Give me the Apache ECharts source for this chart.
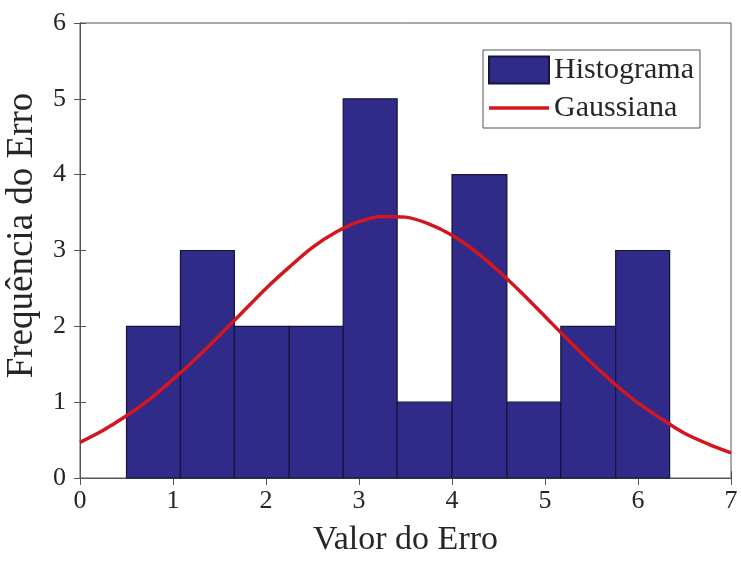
<!DOCTYPE html>
<html>
<head>
<meta charset="utf-8">
<script src="https://cdn.jsdelivr.net/npm/echarts@6/dist/echarts.min.js"></script>
<style>
  html, body { margin: 0; padding: 0; background: #fff; }
  #chart { width: 742px; height: 562px; }
</style>
</head>
<body>
<div id="chart"></div>
<script>
// histogram bins (edges) and counts
const binEdges = [0.50, 1.08, 1.66, 2.25, 2.83, 3.41, 4.00, 4.59, 5.17, 5.76, 6.34];
const counts = [2, 3, 2, 2, 5, 1, 4, 1, 2, 3];

// gaussian curve
const gaussX = [0, 0.25, 0.5, 0.75, 1, 1.25, 1.5, 1.75, 2, 2.25, 2.5, 2.75, 3, 3.25, 3.5,
  3.75, 4, 4.25, 4.5, 4.75, 5, 5.25, 5.5, 5.75, 6, 6.25, 6.5, 6.75, 7];
const gaussY = [0.47, 0.63, 0.82, 1.04, 1.30, 1.58, 1.88, 2.19, 2.50, 2.78, 3.04, 3.24, 3.38, 3.45, 3.44,
  3.35, 3.20, 2.99, 2.73, 2.44, 2.13, 1.82, 1.52, 1.24, 0.99, 0.78, 0.59, 0.45, 0.33];

const xTicks = [0, 1, 2, 3, 4, 5, 6, 7];
const yTicks = [0, 1, 2, 3, 4, 5, 6];

const font = "'Liberation Serif', 'DejaVu Serif', serif";
const textColor = '#262626';
const axisColor = '#555';

const histData = counts.map((c, i) => [binEdges[i], binEdges[i + 1], c]);
const lineData = gaussX.map((x, i) => [x, gaussY[i]]);

const chart = echarts.init(document.getElementById('chart'));

const tickLabel = { fontFamily: font, fontSize: 26, color: textColor };

chart.setOption({
  animation: false,
  grid: {
    left: 80, right: 11, top: 23, bottom: 84,
    outerBoundsMode: 'none',
    containLabel: false,
    show: true, borderColor: axisColor, borderWidth: 1
  },
  legend: {
    orient: 'vertical',
    left: 483, top: 50,
    padding: [5, 6, 5, 5],
    itemGap: 8,
    itemWidth: 60, itemHeight: 27,
    itemTextGap: 5,
    borderColor: axisColor, borderWidth: 1,
    backgroundColor: '#fff',
    textStyle: { fontFamily: font, fontSize: 30, color: textColor },
    data: [
      { name: 'Histograma', icon: 'rect' },
      // thin bar centred in a 60x27 box (corner dots keep the box size)
      { name: 'Gaussiana', icon: 'path://M0,0L0.01,0M0,11.7L60,11.7L60,15.3L0,15.3ZM59.99,27L60,27' }
    ]
  },
  xAxis: [{
    type: 'value',
    min: 0, max: 7, interval: 1,
    name: 'Valor do Erro',
    nameLocation: 'middle',
    nameGap: 45,
    nameTextStyle: { fontFamily: font, fontSize: 34, color: textColor },
    axisLine: { show: true, lineStyle: { color: axisColor } },
    axisTick: { show: true, inside: true, length: 7, lineStyle: { color: axisColor } },
    axisLabel: Object.assign({ margin: 10, formatter: v => xTicks.includes(v) ? v : '' }, tickLabel),
    splitLine: { show: false }
  }, {
    type: 'value',
    position: 'top',
    min: 0, max: 7, interval: 1,
    axisLine: { show: true, lineStyle: { color: axisColor } },
    axisTick: { show: true, inside: true, length: 7, lineStyle: { color: axisColor } },
    axisLabel: { show: false },
    splitLine: { show: false }
  }],
  yAxis: [{
    type: 'value',
    min: 0, max: 6, interval: 1,
    name: 'Frequência do Erro',
    nameLocation: 'middle',
    nameGap: 39,
    nameTextStyle: { fontFamily: font, fontSize: 37, color: textColor, padding: [0, 0, 0, 30] },
    axisLine: { show: true, lineStyle: { color: axisColor } },
    axisTick: { show: true, inside: true, length: 6, lineStyle: { color: axisColor } },
    axisLabel: Object.assign({ margin: 14, formatter: v => yTicks.includes(v) ? v : '' }, tickLabel),
    splitLine: { show: false }
  }, {
    type: 'value',
    position: 'right',
    min: 0, max: 6, interval: 1,
    axisLine: { show: true, lineStyle: { color: axisColor } },
    axisTick: { show: true, inside: true, length: 6, lineStyle: { color: axisColor } },
    axisLabel: { show: false },
    splitLine: { show: false }
  }],
  series: [
    {
      name: 'Histograma',
      type: 'custom',
      xAxisIndex: 0,
      yAxisIndex: 0,
      itemStyle: { color: '#302a88', borderColor: '#15143a', borderWidth: 1 },
      encode: { x: [0, 1], y: 2 },
      renderItem: function (params, api) {
        const p0 = api.coord([api.value(0), 0]);
        const p1 = api.coord([api.value(1), api.value(2)]);
        return {
          type: 'rect',
          shape: { x: p0[0], y: p1[1], width: p1[0] - p0[0], height: p0[1] - p1[1] },
          style: { fill: '#302a88', stroke: '#15143a', lineWidth: 1.2 }
        };
      },
      data: histData,
      z: 2
    },
    {
      name: 'Gaussiana',
      type: 'line',
      xAxisIndex: 0,
      yAxisIndex: 0,
      smooth: 0.3,
      symbol: 'none',
      lineStyle: { color: '#d4161f', width: 3.5 },
      itemStyle: { color: '#d4161f' },
      data: lineData,
      z: 3
    }
  ]
});
</script>
</body>
</html>
